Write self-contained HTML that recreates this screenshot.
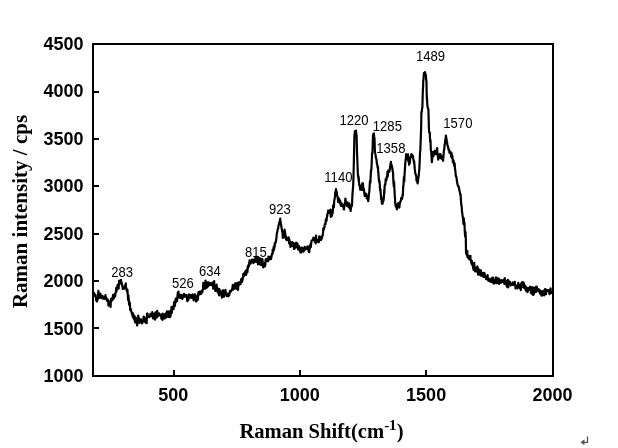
<!DOCTYPE html>
<html><head><meta charset="utf-8"><style>
html,body{margin:0;padding:0;background:#fff;}
body{width:618px;height:448px;overflow:hidden;}
svg{display:block;will-change:transform;}
</style></head><body>
<svg width="618" height="448" viewBox="0 0 618 448">
<rect x="0" y="0" width="618" height="448" fill="#fff"/>
<g stroke="#000" stroke-width="2" fill="none" shape-rendering="crispEdges">
<rect x="93" y="44" width="460" height="332"/>
<line x1="93" y1="328" x2="99" y2="328"/>
<line x1="93" y1="281" x2="99" y2="281"/>
<line x1="93" y1="234" x2="99" y2="234"/>
<line x1="93" y1="186" x2="99" y2="186"/>
<line x1="93" y1="139" x2="99" y2="139"/>
<line x1="93" y1="92" x2="99" y2="92"/>
<line x1="174" y1="377" x2="174" y2="370"/>
<line x1="300" y1="377" x2="300" y2="370"/>
<line x1="426" y1="377" x2="426" y2="370"/>
</g>
<polyline fill="none" stroke="#000" stroke-width="2.2" stroke-linejoin="round" points="93.8,292 94.15,293.31 94.5,294.62 94.85,295.22 95.2,296.3 95.55,294.82 95.6,297 95.9,297.03 96.25,300.53 96.6,299.6 96.95,301.53 97.3,300.38 97.4,300 97.65,299.41 98,296.9 98.35,290.78 98.7,292.4 99.05,295.74 99.4,296.42 99.75,297.86 100,297.8 100.1,294.03 100.45,293.76 100.8,295.49 101.15,296.26 101.5,297.81 101.8,297 101.85,296.92 102.2,298.32 102.55,295.92 102.9,298.17 103.25,298.51 103.6,297.8 103.95,298.13 104.3,298.98 104.65,296.9 105,297.2 105.35,295.9 105.4,295 105.7,296.89 106.05,297.44 106.4,298.2 106.75,299.96 107.1,300.74 107.2,300.5 107.45,300 107.8,299.56 108.15,301.2 108.5,305.71 108.85,301.93 109,304 109.2,304.69 109.55,305.36 109.9,301.41 110.25,305.07 110.3,305 110.6,306.84 110.95,298.79 111.3,300.83 111.6,300.5 111.65,300.18 112,298.04 112.35,300.34 112.7,298.53 113.05,294.86 113.4,297.5 113.75,298.45 114.1,297.22 114.45,296.96 114.8,294 115.15,296.36 115.5,293.18 115.85,291.84 116.1,291 116.2,287.91 116.55,291.32 116.9,287.81 117.25,287.35 117.4,288 117.6,284.86 117.95,284.89 118.3,285.22 118.65,288.6 118.8,285.5 119,280.94 119.35,280.64 119.7,283.12 120.05,283.66 120.1,281.6 120.4,281.76 120.75,282.68 121,279.8 121.1,282.58 121.45,282.07 121.8,283.97 121.9,283.4 122.15,285.71 122.5,286.69 122.85,288.99 123.2,288.08 123.25,287.9 123.55,288.02 123.9,287.94 124.25,288.6 124.6,286 124.95,286.03 125.3,285.1 125.65,284.35 125.75,283.4 126,286.95 126.35,288.63 126.7,290.27 126.8,289.6 127.05,291.91 127.4,289.5 127.75,294.31 128.1,299.81 128.2,298.6 128.45,295.68 128.8,300.69 129.15,304.79 129.5,304 129.85,302.46 130.2,310.23 130.55,309.25 130.8,309 130.9,309.04 131.25,311.4 131.6,312 131.95,314.16 132.3,313.72 132.65,316.7 132.9,314.7 133,313.44 133.35,314.69 133.7,318.59 134.05,317.06 134.25,317.4 134.4,315.76 134.75,320.48 135.1,322.32 135.45,318.82 135.6,320.1 135.8,317.59 136.15,321.24 136.5,322.13 136.85,322.71 136.9,323.5 137.2,325.48 137.55,318.83 137.9,322.56 138.25,315.7 138.3,318.3 138.6,317.19 138.95,321.04 139.3,322.86 139.6,321 139.65,322.82 140,321.21 140.35,320.27 140.7,319.81 140.9,319.2 141.05,320.85 141.4,320.08 141.75,321.97 142.1,323.5 142.3,322.75 142.45,322.03 142.8,322.03 143.15,319.91 143.5,320.94 143.6,316.5 143.85,317.86 144.2,317.1 144.55,318.12 144.9,319.81 145,320.1 145.25,322.31 145.6,319.77 145.95,321.61 146.3,321 146.65,323.26 147,313.65 147.35,313.44 147.6,314.7 147.7,315.37 148.05,316.15 148.4,316.25 148.75,316.75 149,316.5 149.1,317.16 149.45,315.94 149.8,315.53 150.15,316.49 150.3,313.8 150.5,314.53 150.85,315.24 151.2,315.1 151.55,315.72 151.9,315.95 152,316 152.25,312.09 152.6,315.04 152.95,318.39 153.3,313.67 153.65,316.16 154,318.47 154.35,318.32 154.7,316.5 155.05,319.55 155.4,312.3 155.75,315.04 156.1,314.84 156.45,316.73 156.8,317.53 157,315 157.15,310.92 157.5,316.04 157.85,316.23 158.2,314.94 158.55,315.73 158.9,313.71 159,313.4 159.25,315.16 159.6,314.05 159.95,314.36 160.3,315.43 160.65,314.95 161,314.71 161.35,318.54 161.7,317.73 162.05,315.04 162.2,315.8 162.4,319.86 162.75,313.54 163.1,318.25 163.45,315.82 163.8,316.87 164.15,318.29 164.5,317.4 164.85,318.49 165.2,313.89 165.3,317.3 165.55,313.56 165.9,317.64 166.25,313.57 166.6,312.84 166.95,311.27 167.3,316.69 167.6,313.4 167.65,315.07 168,316.84 168.35,311.71 168.7,313.95 169.05,311.62 169.2,314.2 169.4,315.69 169.75,317.16 170.1,311.37 170.45,316.42 170.75,312.7 170.8,314.75 171.15,311.29 171.5,306.83 171.85,312.99 172.2,308.79 172.3,308.75 172.55,306.81 172.9,308.15 173.25,307.31 173.6,308.84 173.9,304.8 173.95,302.43 174.3,306.26 174.65,306.12 175,305.13 175.35,300.63 175.4,300.9 175.7,298.68 176.05,301.88 176.4,299.22 176.75,298.56 177,297.8 177.1,300.79 177.45,296.57 177.8,292.69 178.15,295.3 178.5,291.68 178.6,295.5 178.85,297.43 179.2,296.5 179.55,294.63 179.9,296.13 180.1,296.25 180.25,297.91 180.6,295.85 180.95,298.19 181.3,294.73 181.4,294.75 181.65,297.2 182,298.41 182.35,298.89 182.7,296.46 182.75,295.6 183.05,296.38 183.4,297.16 183.75,295.77 184.1,293.9 184.45,296.63 184.8,296.01 185.15,296.58 185.4,295.2 185.5,295.31 185.85,295.19 186.2,295.88 186.55,294.97 186.8,296.5 186.9,297.15 187.25,301.06 187.6,297.71 187.95,299.26 188.1,298.3 188.3,300.22 188.65,297.1 189,294.28 189.35,297.3 189.4,296.5 189.7,297.54 190.05,297.86 190.4,296.04 190.75,296.14 190.8,294.75 191.1,296.41 191.45,296.09 191.8,297.85 192.1,297.4 192.15,297.65 192.5,295.06 192.85,294.44 193.2,296.7 193.5,298.3 193.55,300.3 193.9,296.78 194.25,295.8 194.6,295.84 194.8,297.4 194.95,294.45 195.3,298.53 195.65,297.16 196,301.52 196.1,301 196.35,296.72 196.7,300.95 197.05,298.37 197.4,295.37 197.5,299.2 197.75,299.94 198.1,296.54 198.45,291.99 198.8,294.75 199.15,292.14 199.5,294.02 199.85,291.68 200.2,292 200.55,294.22 200.9,293 201.25,293.67 201.6,292.52 201.8,290.5 201.95,290.87 202.3,292.27 202.65,289.97 203,288.69 203.35,282.92 203.6,286.3 203.7,288.17 204.05,288.73 204.4,284.85 204.75,284.12 205.1,288.76 205.4,284.5 205.45,280.6 205.8,285.3 206.15,288.02 206.5,281.81 206.85,285.16 207.1,283.5 207.2,287.52 207.55,283.49 207.9,285.18 208.25,286.12 208.6,282.34 208.9,284.5 208.95,284.27 209.3,284.6 209.65,285.05 210,283.75 210.35,283.71 210.7,283.2 211.05,284.79 211.4,284.18 211.75,285.14 212.1,284.35 212.45,282.59 212.5,284.5 212.8,282.73 213.15,288.64 213.5,287.29 213.85,286.28 214.2,281.01 214.3,285 214.55,286.98 214.9,287.52 215.2,287.2 215.25,290.96 215.6,288.54 215.95,287.8 216.3,289.45 216.65,284.69 217,289 217.35,291.63 217.7,290.43 218.05,288.54 218.4,293.36 218.75,290.8 219.1,295.48 219.45,289.15 219.8,291.49 220.15,294.32 220.5,294.4 220.85,294.63 221.2,293.17 221.55,291.73 221.9,297.66 222.25,295.81 222.3,293.5 222.6,290.72 222.95,290.22 223.3,296.75 223.65,295 224,296.61 224.1,292.6 224.35,294.63 224.7,291.28 225.05,294.12 225.4,289.94 225.75,292.6 225.9,294.4 226.1,294.36 226.45,295.81 226.8,293.22 227.15,294.72 227.5,296.16 227.7,295.25 227.85,295.93 228.2,296.17 228.55,294.88 228.9,293.37 229.25,295.48 229.5,293.5 229.6,293.45 229.95,290.99 230.3,290.89 230.65,291.72 231,290.94 231.25,290.8 231.35,290.94 231.7,289.87 232.05,289.54 232.4,288.14 232.75,284.95 233,287.2 233.1,288.13 233.45,289.52 233.8,288.16 234.15,286.78 234.5,288.18 234.8,287.2 234.85,285.08 235.2,283.24 235.55,287.33 235.9,285.15 236.25,288.83 236.6,287.2 236.95,284.64 237.3,282.89 237.65,284.39 238,289.97 238.35,285.49 238.4,286.3 238.7,282.41 239.05,282.72 239.4,284.52 239.7,282.5 239.75,283.49 240.1,282.07 240.45,284.22 240.8,281.79 241.15,279.47 241.4,279 241.5,280.21 241.85,282.19 242.2,280.34 242.55,280.1 242.9,277.5 243.25,274.16 243.6,275.25 243.95,276.22 244.3,273 244.65,275.04 244.9,272 245,273.22 245.35,273.6 245.7,270.82 246.05,274.94 246.4,273.39 246.7,270.4 246.75,269.78 247.1,269.4 247.45,272.11 247.8,266.34 248.15,267.97 248.5,265 248.85,266.46 249.2,263.61 249.55,260.33 249.9,262.61 250.25,262.29 250.3,261.4 250.6,263.59 250.95,262.47 251.3,260.45 251.65,261.93 252,260.89 252.1,259.6 252.35,260.43 252.7,260.62 253.05,260.49 253.4,263.06 253.75,259.76 253.9,262.3 254.1,260.81 254.45,262.02 254.8,258.6 255.15,260.68 255.5,257.49 255.6,261.4 255.85,259.54 256.2,261.79 256.55,261.29 256.9,259.42 257,259.4 257.25,259.14 257.6,256.88 257.95,264.31 258.3,261.84 258.65,263.46 259,259.46 259.3,261.7 259.35,261.34 259.7,258.14 260.05,264.17 260.4,264.86 260.75,259.19 261.1,263.57 261.45,264.68 261.6,264 261.8,265.08 262.15,262.94 262.4,259 262.5,261.22 262.85,263.48 263.2,267.34 263.3,266.3 263.55,265.87 263.9,265.5 264.25,265.9 264.6,265.39 264.95,266.49 265.1,262.9 265.3,265.26 265.65,259.46 266,260.89 266.35,259.32 266.7,258.93 267.05,260.77 267.4,260.6 267.75,260.43 268.1,261.31 268.45,256.56 268.8,257.15 269.15,259.64 269.5,259.07 269.7,259.4 269.85,258.5 270.2,258.56 270.55,256.53 270.9,259.25 271.25,257.99 271.4,257 271.6,256.24 271.95,253.96 272.3,254.07 272.6,253.6 272.65,249.49 273,250.22 273.35,251.4 273.7,246.94 273.75,250.1 274.05,249.34 274.4,247.82 274.75,243.07 274.9,245.5 275.1,243.98 275.45,242.15 275.8,242.16 276.1,239.7 276.15,240.73 276.5,237.07 276.85,233.05 277.2,232.7 277.55,230.37 277.9,228.53 278.25,228.28 278.4,225.8 278.6,225.6 278.95,224.43 279.3,222 279.65,222.56 280,220.04 280.3,218.5 280.35,219.89 280.7,223.23 280.9,223.4 281.05,224.47 281.4,227.09 281.75,228.72 282,230.1 282.1,231.72 282.45,231.29 282.8,237.79 283.15,234.76 283.2,235.7 283.5,237.67 283.85,234.98 284.2,236.63 284.55,229.68 284.9,231.45 285.1,232.8 285.25,233.78 285.6,235.59 285.95,239.26 286.3,237.03 286.65,240.17 286.7,237.5 287,239.34 287.35,239.92 287.7,239.14 288.05,237.85 288.25,238.3 288.4,239.87 288.75,237.44 289.1,243.48 289.45,239.7 289.8,243 290.15,243.55 290.5,246.96 290.85,242.51 291.2,243.04 291.4,243 291.55,245.71 291.9,243.56 292.25,242.07 292.6,244.77 292.9,244.5 292.95,245.81 293.3,246.26 293.65,243.18 294,248.91 294.35,248.89 294.5,245.3 294.7,245.21 295.05,245.52 295.4,243.75 295.75,247.57 296.1,242.67 296.45,245.47 296.8,243.75 297.15,243.38 297.5,243.6 297.85,247.4 298.2,249.44 298.4,246.9 298.55,247.09 298.9,246.13 299.25,249.91 299.6,248.52 299.95,249.81 300,249.2 300.3,252.39 300.65,251.34 301,247.52 301.35,252.44 301.5,248.4 301.7,248.61 302.05,250.68 302.4,247.88 302.75,249.55 303.1,250 303.45,251.63 303.8,251 304.15,249.77 304.5,248.89 304.7,246.9 304.85,249.04 305.2,249.54 305.55,249.3 305.9,248.71 306.2,248.4 306.25,248.5 306.6,247.91 306.95,248.51 307.3,246.56 307.65,249.18 307.8,249.2 308,246.36 308.35,249.92 308.7,251.32 309.05,252.23 309.3,251.6 309.4,250.55 309.75,247.17 310.1,247.61 310.45,244.29 310.7,244 310.8,247.07 311.15,244 311.5,241 311.85,240.51 312.2,240.33 312.55,239.99 312.9,239.66 313.25,238.24 313.4,237.5 313.6,238.17 313.95,238.97 314.3,239.54 314.65,241.66 314.8,239.5 315,237.95 315.35,239.53 315.7,243.46 316.05,235.54 316.1,239.5 316.4,238.67 316.75,240.57 317.1,240.91 317.45,241.84 317.5,241 317.8,240.35 318.15,241.55 318.5,240.72 318.75,240.5 318.85,242.16 319.2,236.36 319.55,238.23 319.9,240.04 320,240 320.25,237.37 320.6,236.84 320.95,240.02 321.3,236.71 321.4,238 321.65,238.68 322,237.93 322.35,235.96 322.7,235.4 322.8,234 323.05,232.64 323.4,228.18 323.75,229.62 324.1,228.1 324.45,227.73 324.8,224.19 325.15,223.76 325.45,222.8 325.5,224.25 325.85,219.27 326.2,221.21 326.55,220.78 326.8,217.4 326.9,217.62 327.25,215.27 327.6,213.48 327.95,213.51 328.1,210.7 328.3,211.18 328.65,212.07 329,211 329.35,212.67 329.7,212.55 330.05,213.27 330.1,213.4 330.4,209.69 330.75,216.99 331.1,216.03 331.45,210.43 331.8,216.14 332.1,214.7 332.15,214.13 332.5,213.4 332.85,211.22 333.2,205.12 333.5,206.7 333.55,205.88 333.9,207.18 334.25,200.19 334.6,199 334.95,196.85 335.3,192 335.65,192.29 336,189 336.35,191.92 336.7,192.07 336.8,192 337.05,195.73 337.4,196.17 337.6,196.8 337.75,197.71 338.1,202 338.45,197.76 338.8,198.28 339.15,201.79 339.4,201.25 339.5,202.72 339.85,200.2 340.2,200.77 340.55,204.9 340.9,205.72 341.1,205.7 341.25,202.75 341.6,205.01 341.95,204.08 342.3,206.11 342.65,204.67 342.9,204.8 343,204.86 343.35,205.15 343.7,209.12 344.05,209.51 344.1,207.8 344.4,206.14 344.75,204.27 345.1,201.65 345.4,198.5 345.45,198.85 345.8,201.55 346.15,204.36 346.5,204.67 346.7,205.2 346.85,205.4 347.2,205.96 347.55,202.46 347.9,206.01 348.25,204.72 348.6,207.25 348.7,206.5 348.95,204.34 349.3,203.31 349.65,207.81 350,208.74 350.35,207.41 350.7,211.03 350.8,209.2 351.05,207.56 351.4,205.38 351.75,206.3 352.1,203.8 352.45,194.37 352.8,190.35 353.15,185.81 353.2,185 353.5,176.15 353.85,161.43 353.9,160 354.2,146.28 354.4,136 354.55,135.37 354.9,131 355.25,131.24 355.6,132.88 355.95,131.43 356,130.5 356.3,135.13 356.6,135 356.65,137.97 357,152 357.35,160.77 357.7,169.88 357.8,172 358.05,177.07 358.4,176.03 358.6,181 358.75,177.52 359.1,183.95 359.45,185.5 359.8,186.25 359.9,185.2 360.15,189.59 360.5,186.67 360.85,187.37 360.9,186.9 361.2,188.78 361.55,187.35 361.9,190 362.25,183.42 362.5,186 362.6,185.44 362.95,183.24 363.3,189.92 363.65,188.25 364,190 364.35,193.06 364.7,196.02 365.05,193.07 365.4,193.55 365.6,194.7 365.75,193.89 366.1,193.83 366.45,194.96 366.8,198.43 367.15,197.78 367.2,197.8 367.5,198.35 367.85,198.29 368.2,201.14 368.4,199.4 368.55,198.99 368.9,194.09 369.25,192.36 369.5,188.4 369.6,186.99 369.95,181.04 370.3,183.03 370.65,177.1 371,170.22 371.1,171.25 371.35,169.75 371.7,162.71 372.05,153.08 372.4,153.23 372.6,148 372.75,143.38 373,134.5 373.1,135.54 373.45,134.16 373.8,133.63 373.9,133.3 374.15,137.3 374.5,138 374.85,149.43 375,152.5 375.2,153.51 375.55,154.55 375.9,157.66 376.25,158.77 376.6,160.3 376.95,164.34 377.3,164.59 377.65,167.88 378,166.56 378.1,171.25 378.35,172.27 378.7,177.42 379.05,181.61 379.4,180.61 379.7,183.75 379.75,183.89 380.1,190.46 380.45,189.08 380.8,194.24 381.15,199.14 381.25,196.25 381.5,198.18 381.85,203.38 382.2,201.7 382.3,204 382.55,203.69 382.9,201.98 383.25,201.33 383.6,200 383.95,196.83 384.2,190.3 384.3,193.67 384.65,186.16 385,184.28 385.35,184.56 385.7,179.07 385.9,180.2 386.05,180.82 386.4,179.9 386.75,176.93 387.1,177.62 387.45,171.95 387.5,175.2 387.8,176.27 388.15,170.5 388.5,171.67 388.85,171.28 389.2,171.8 389.55,170.27 389.9,168.82 390.25,165.73 390.6,164.09 390.9,161.8 390.95,162.72 391.3,165.54 391.65,164.91 392,166.83 392.35,169.43 392.4,168 392.7,171.86 393.05,172.27 393.4,182.87 393.5,180 393.75,186.46 394.1,182.04 394.45,189.41 394.5,190 394.8,195.92 395.1,200 395.15,202.59 395.5,205.19 395.8,206.5 395.85,205.93 396.2,204.42 396.55,207.17 396.9,209.42 397.25,204.96 397.5,207.5 397.6,205.19 397.95,207.22 398.3,203.14 398.65,206.35 399,205.79 399.35,207.57 399.5,206.5 399.7,204.09 400.05,202.18 400.4,201.73 400.75,200.97 401,200 401.1,198.2 401.45,198.53 401.8,198.98 402.15,198.77 402.5,195 402.85,195.25 403.2,186.28 403.5,185 403.55,183.58 403.9,177.04 404.25,181.46 404.5,175 404.6,174.46 404.95,168.29 405.3,163 405.65,159.75 406,156.92 406.1,154 406.35,154.97 406.7,154.89 407.05,157.73 407.4,156.24 407.5,156 407.75,159.63 408.1,154.44 408.45,161.58 408.5,160 408.8,162.17 409.15,164.76 409.2,164 409.5,163.17 409.85,162.97 410.2,158 410.55,157.22 410.9,157 411.25,155.31 411.5,154 411.6,155.09 411.95,155.67 412.3,155.21 412.65,157.82 413,156 413.35,159.43 413.7,160.55 414,163 414.05,160.83 414.4,164.06 414.75,168.68 415,170 415.1,172.57 415.45,173.19 415.8,175.15 416,175 416.15,175.73 416.5,180.72 416.85,178.82 417,180.5 417.2,179.67 417.55,183.49 417.8,182 417.9,181.54 418.25,178.69 418.6,175.93 418.8,176 418.95,173 419.3,169.25 419.6,163 419.65,162.84 420,152.84 420.35,149.88 420.4,148 420.7,140.68 421.05,129.09 421.1,130 421.4,112 421.75,112.13 422.1,108.23 422.4,107.5 422.45,104.82 422.8,92 423.15,85.35 423.3,80 423.5,79.41 423.85,74.49 423.9,73 424.2,73.31 424.55,73.57 424.9,74.47 425,72 425.25,73.49 425.6,75.58 425.9,75 425.95,76.44 426.3,80.74 426.5,82 426.65,92.71 426.9,100 427,97.29 427.3,105 427.35,104.27 427.7,107.92 428.05,108.2 428.4,110 428.75,121.65 428.8,125 429.1,132.31 429.45,132.43 429.8,132.55 430,138.4 430.15,141.96 430.5,140.2 430.85,150.44 431.1,150.7 431.2,150.86 431.55,157.46 431.75,160 431.9,162.25 432.25,158.5 432.6,153.95 432.95,152.04 433,155.6 433.3,156.34 433.65,154.81 434,153.95 434.35,153.06 434.7,151.63 434.8,150.7 435.05,152.03 435.4,154.23 435.75,152.92 436,153 436.1,154.11 436.45,154.27 436.8,154.32 437.15,148.16 437.3,152 437.5,153.17 437.85,155.28 438.2,159.56 438.5,156.8 438.55,154.6 438.9,155.28 439.25,155.38 439.6,156.55 439.7,154.4 439.95,153.89 440.3,158.03 440.65,154.42 441,156.8 441.35,158.01 441.7,156.88 442.05,159.01 442.4,157.77 442.75,156.4 442.8,160 443.1,160.8 443.4,156.8 443.45,156.96 443.8,151.47 444.15,149.55 444.5,146.83 444.6,144.5 444.85,144.06 445.2,140.49 445.55,138.63 445.9,135.5 446.25,138.09 446.6,139.73 446.95,143.56 447.1,142 447.3,144.67 447.65,145.56 448,146.68 448.3,148.2 448.35,147.79 448.7,150.38 449.05,150.26 449.4,150.35 449.5,153 449.75,151.71 450.1,152.51 450.45,152.95 450.8,152.23 451.15,156.66 451.4,155.6 451.5,152.92 451.85,157.95 452.2,154.97 452.55,158.68 452.6,158 452.9,162.27 453.25,161.16 453.6,160.56 453.8,163 453.95,163.86 454.3,165.83 454.65,163.44 455,169 455.35,170.66 455.7,175 456.05,176.78 456.4,176.82 456.75,179.45 457.1,182.31 457.45,183.81 457.8,185.54 458.15,186.27 458.5,186.4 458.85,187.44 459.2,189.7 459.55,190.82 459.9,192.4 460.25,194.37 460.3,195 460.6,194.17 460.95,200.69 461.3,204.83 461.65,206.2 462,211.8 462.35,213.79 462.7,217.01 463.05,217.56 463.4,223.92 463.75,218.04 464.1,223.58 464.3,225.2 464.45,222.58 464.8,231.82 465.15,236.75 465.5,231.96 465.8,238.6 465.85,242.28 466,252.2 466.2,253.75 466.55,252.66 466.9,255.25 467.25,250.8 467.6,257.35 467.95,257.01 468.2,256.7 468.3,256.89 468.65,256.05 469,259.25 469.35,257.28 469.7,259.34 470.05,258.23 470.4,255.9 470.5,260 470.75,260.44 471.1,261.67 471.45,263.6 471.8,260.73 472.15,263.3 472.5,265.45 472.7,264.5 472.85,265.05 473.2,268.01 473.55,269.77 473.9,264.36 474.25,262.94 474.6,269.32 474.9,267.9 474.95,271.31 475.3,270.31 475.65,270.41 476,267.59 476.35,267.72 476.7,271.58 477.05,267.95 477.2,270.1 477.4,266.24 477.75,268.18 478.1,274.51 478.45,274.69 478.8,269.39 479.15,269.47 479.4,271.2 479.5,271.81 479.85,270 480.2,274.88 480.55,272.18 480.9,270.31 481.25,275.93 481.6,273.4 481.95,272.63 482.3,274.92 482.65,274.92 483,274.78 483.35,276.7 483.7,274.98 483.9,276.8 484.05,272.92 484.4,273.09 484.75,274.44 485.1,275.73 485.45,277.52 485.8,277.87 486.1,277.9 486.15,279.16 486.5,278.47 486.85,276.73 487.2,277.19 487.55,275.06 487.9,278.92 488.25,280.63 488.3,279.6 488.6,280.69 488.95,279.16 489.3,278.96 489.65,281.31 490,279.19 490.35,280.69 490.6,279 490.7,280.31 491.05,279.59 491.4,282.09 491.75,278.05 492.1,278.62 492.45,277.73 492.8,279.6 493.15,277.93 493.5,283.18 493.85,283.71 494.2,279.97 494.55,281.25 494.9,282.66 495,280.1 495.25,281.88 495.6,282.75 495.95,277.32 496.3,278.69 496.65,281.1 497,283.26 497.25,280.1 497.35,280.36 497.7,278.33 498.05,279.53 498.4,278.95 498.75,278.61 499.1,283.9 499.45,279.31 499.5,280.7 499.8,280.66 500.15,282.9 500.5,281.99 500.85,280.78 501.2,281.04 501.55,280.68 501.7,280.1 501.9,282.3 502.25,281.07 502.6,282.01 502.95,280.57 503.3,281.67 503.65,280.19 503.9,280.7 504,281.71 504.35,283.89 504.7,278.14 505.05,281.41 505.4,282.34 505.75,280.81 506.1,281.65 506.2,282.4 506.45,284.26 506.8,286.66 507.15,284.26 507.5,283.77 507.85,279.81 508.2,287.36 508.4,283.5 508.55,283.74 508.9,283.68 509.25,281.46 509.6,283.97 509.95,281.86 510.3,284.61 510.6,284.6 510.65,285.57 511,284.23 511.35,284.15 511.7,284.52 512.05,284.9 512.4,283.49 512.7,282.3 512.75,284.73 513.1,282.97 513.45,284.09 513.8,284.78 514.15,284.28 514.5,284.82 514.85,281.95 514.9,284.6 515.2,284.58 515.55,288.36 515.9,287.06 516.25,285.56 516.6,286.51 516.95,286.3 517.2,286.8 517.3,286.69 517.65,288.41 518,286.6 518.35,282.84 518.7,286.75 519.05,284.84 519.4,286.8 519.75,288.06 520.1,285.11 520.45,286.6 520.8,290.06 521.15,283.62 521.5,283.28 521.6,285.7 521.85,282.71 522.2,282.03 522.55,282.19 522.9,287.12 523.25,285.09 523.6,282.7 523.9,286.8 523.95,283.54 524.3,288.16 524.65,285.09 525,285.99 525.35,287.53 525.7,289.78 526.05,290.76 526.1,286.8 526.4,289.37 526.75,287.77 527.1,288.21 527.45,292.11 527.8,291.64 528.15,288.17 528.3,289 528.5,290.1 528.85,289.9 529.2,289.56 529.55,288.51 529.9,286.86 530.25,288.78 530.55,290.1 530.6,286.73 530.95,293 531.3,291.66 531.65,288.01 532,293.91 532.35,292.98 532.7,287.24 532.8,291.25 533.05,295.02 533.4,292.58 533.75,294.5 534.1,287.57 534.45,291.18 534.8,290.68 535,289.6 535.15,290.08 535.5,290.09 535.85,292.11 536.2,286.58 536.55,287.21 536.9,286.95 537.25,290.1 537.6,289.05 537.95,289.13 538.3,291.44 538.65,291.4 539,291.06 539.35,289.68 539.5,291.25 539.7,290.38 540.05,293.63 540.4,293.4 540.75,292.13 541.1,291.38 541.45,295.69 541.7,292.4 541.8,291.14 542.15,294.05 542.5,295.34 542.85,292.39 543.2,294.97 543.55,290.87 543.9,293.5 544.25,295.39 544.6,293.25 544.95,288.98 545.3,293.6 545.65,289.83 546,294.27 546.2,291.25 546.35,289.68 546.7,290.63 547.05,291.18 547.4,291.06 547.75,290.78 548.1,290.99 548.4,290.1 548.45,291.06 548.8,290.68 549.15,291.46 549.5,294.06 549.85,293.72 550,292.4 550.2,292.42 550.55,288.33 550.9,292.37 551.25,293.09 551.5,292"/>
<g font-family="'Liberation Sans', Arial, sans-serif" font-weight="bold" font-size="18" fill="#000" text-anchor="end">
<text x="83.5" y="382">1000</text>
<text x="83.5" y="334.57">1500</text>
<text x="83.5" y="287.14">2000</text>
<text x="83.5" y="239.71">2500</text>
<text x="83.5" y="192.29">3000</text>
<text x="83.5" y="144.86">3500</text>
<text x="83.5" y="97.43">4000</text>
<text x="83.5" y="50">4500</text>
</g>
<g font-family="'Liberation Sans', Arial, sans-serif" font-weight="bold" font-size="18" fill="#000" text-anchor="middle">
<text x="173.38" y="401">500</text>
<text x="299.75" y="401">1000</text>
<text x="426.13" y="401">1500</text>
<text x="552.5" y="401">2000</text>
</g>
<g font-family="'Liberation Sans', Arial, sans-serif" font-size="14.0" fill="#000">
<text transform="translate(111.3,276.8) scale(0.935,1)">283</text>
<text transform="translate(171.9,287.8) scale(0.935,1)">526</text>
<text transform="translate(199,275.8) scale(0.935,1)">634</text>
<text transform="translate(245,256.5) scale(0.935,1)">815</text>
<text transform="translate(269,213.9) scale(0.935,1)">923</text>
<text transform="translate(324.3,181.9) scale(0.935,1)">1140</text>
<text transform="translate(339.5,125) scale(0.935,1)">1220</text>
<text transform="translate(372.8,131.1) scale(0.935,1)">1285</text>
<text transform="translate(376.3,152.5) scale(0.935,1)">1358</text>
<text transform="translate(416,60.8) scale(0.935,1)">1489</text>
<text transform="translate(443.3,127.8) scale(0.935,1)">1570</text>
</g>
<text transform="translate(26.5,211.5) rotate(-90)" text-anchor="middle" font-family="'Liberation Serif', 'Times New Roman', serif" font-weight="bold" font-size="21" fill="#000">Raman intensity / cps</text>
<text x="239.4" y="438" font-family="'Liberation Serif', 'Times New Roman', serif" font-weight="bold" font-size="20.6" fill="#000">Raman Shift(cm<tspan font-size="15" dy="-8.5">-1</tspan><tspan dy="8.5">)</tspan></text>
<g stroke="#555" stroke-width="1.3" fill="none">
<polyline points="587.5,436.5 587.5,442.3 582,442.3"/>
</g>
<polygon points="580.5,442.3 584.5,439.3 584.5,445.3" fill="#555"/>
</svg>
</body></html>
